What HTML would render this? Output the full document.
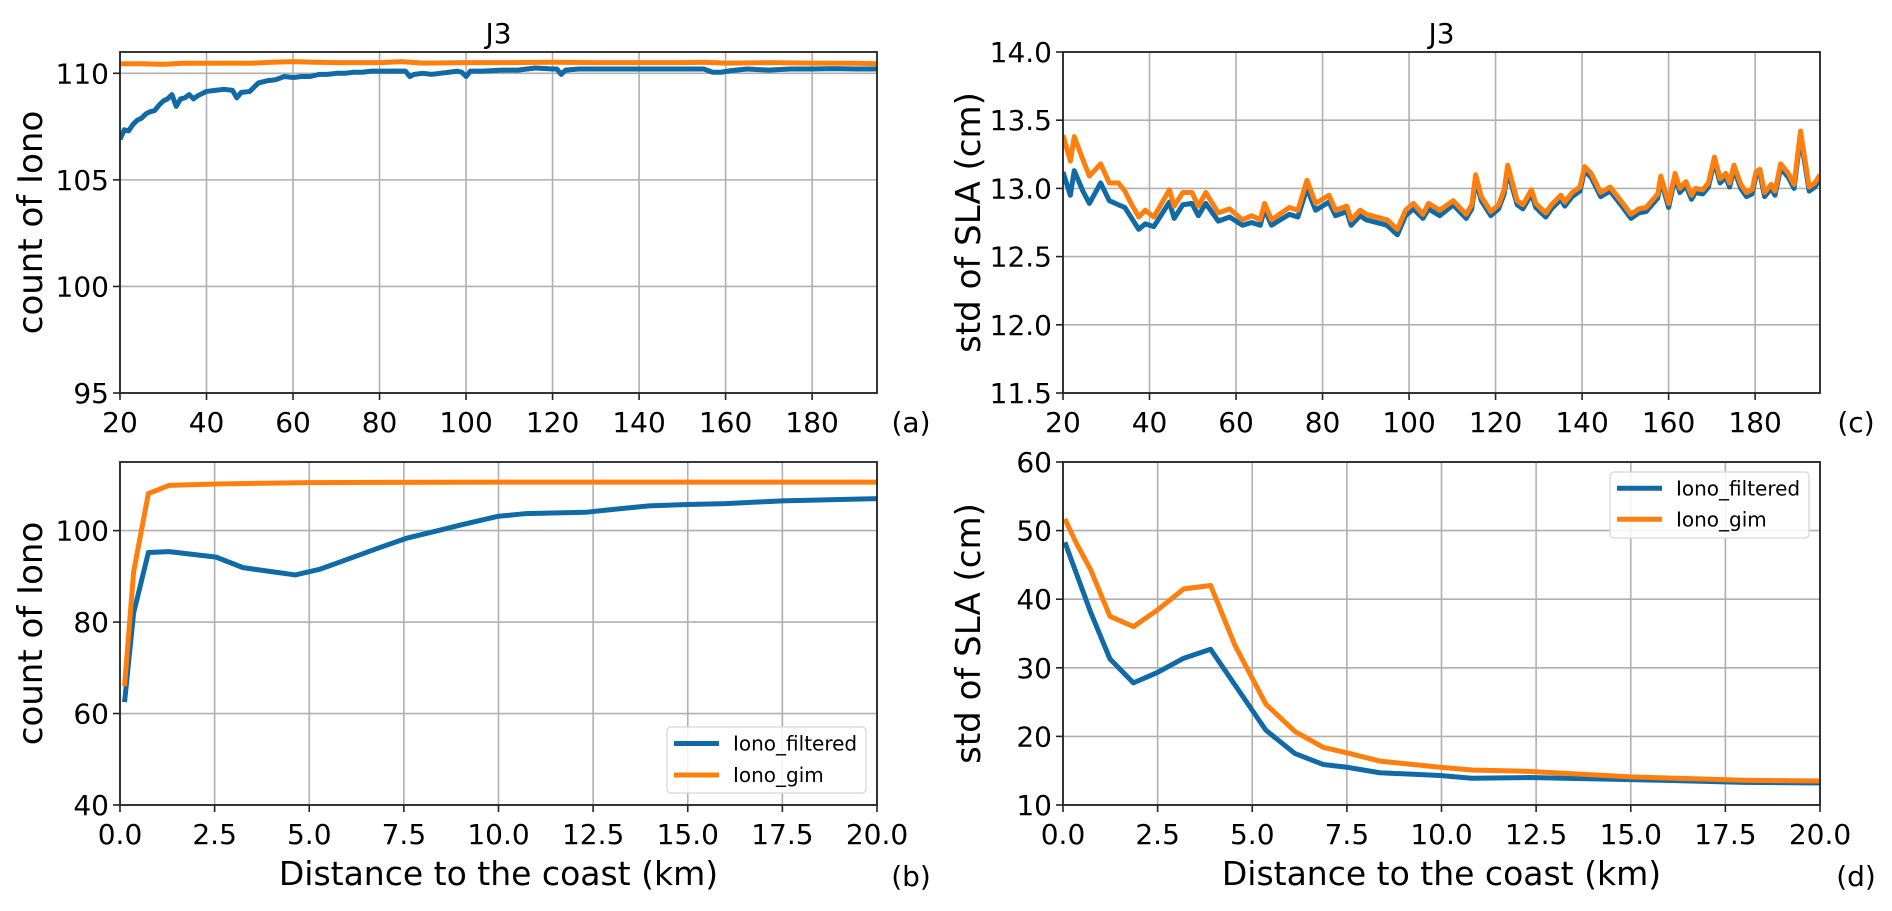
<!DOCTYPE html>
<html><head><meta charset="utf-8"><style>
html,body{margin:0;padding:0;background:#fff;}
svg{display:block;font-family:"DejaVu Sans","Liberation Sans",sans-serif;}
</style></head><body>
<svg id="fig" width="1892" height="911" viewBox="0 0 1892 911" xmlns="http://www.w3.org/2000/svg"></svg>
<script>
// ---- data ----
const aBlue=[[20,106.9],[21,107.35],[22,107.3],[23,107.6],[24,107.8],[25,107.9],[26,108.1],[27,108.2],[28,108.25],[29,108.5],[30,108.7],[31,108.8],[32,109.0],[33,108.45],[34,108.8],[35,108.85],[36,109.0],[37,108.8],[38,108.95],[40,109.15],[42,109.2],[44,109.25],[46,109.2],[47,108.85],[48,109.1],[50,109.15],[52,109.55],[54,109.65],[56,109.7],[58,109.85],[60,109.8],[62,109.85],[64,109.85],[66,109.95],[68,109.95],[70,110.0],[72,110.0],[74,110.05],[76,110.05],[78,110.1],[80,110.1],[84,110.1],[86,110.1],[87,109.85],[88,109.95],[90,110.0],[92,109.95],[94,110.0],[96,110.05],[98,110.1],[99,110.05],[100,109.85],[101,110.1],[104,110.1],[108,110.15],[112,110.15],[116,110.25],[120,110.2],[121,110.2],[122,109.95],[123,110.15],[126,110.2],[130,110.2],[135,110.2],[140,110.2],[145,110.2],[150,110.2],[155,110.2],[157,110.05],[159,110.05],[161,110.12],[165,110.2],[170,110.15],[175,110.2],[180,110.2],[185,110.22],[190,110.2],[195,110.2]];
const aOrange=[[20,110.45],[25,110.45],[30,110.42],[35,110.48],[40,110.47],[45,110.48],[50,110.47],[55,110.52],[60,110.55],[65,110.52],[70,110.5],[80,110.5],[85,110.55],[90,110.48],[100,110.5],[110,110.5],[120,110.52],[130,110.5],[140,110.5],[150,110.5],[155,110.52],[160,110.48],[170,110.5],[180,110.48],[190,110.47],[195,110.45]];
const cOrange=[[20,13.39],[21.7,13.2],[22.6,13.38],[24.6,13.21],[26.1,13.09],[28.7,13.18],[30.7,13.04],[32.8,13.04],[34.3,12.98],[35.9,12.88],[37.5,12.79],[39,12.84],[41,12.79],[44.6,12.99],[45.7,12.87],[47.7,12.97],[49.8,12.97],[51.3,12.87],[53,12.97],[55.9,12.82],[58.5,12.85],[61.5,12.77],[63.6,12.8],[65.6,12.77],[66.6,12.89],[68.2,12.77],[72.3,12.86],[74.3,12.84],[76.4,13.06],[78.4,12.89],[81.5,12.95],[83,12.84],[85.6,12.87],[86.6,12.77],[88.7,12.84],[90.1,12.81],[94.9,12.77],[97.3,12.7],[99.2,12.84],[101,12.89],[103.2,12.81],[104.5,12.89],[107.1,12.84],[110.2,12.91],[113.2,12.81],[114.5,12.88],[115.4,13.1],[116.7,12.94],[118.9,12.83],[120.7,12.88],[122,12.99],[122.8,13.17],[125,12.91],[126.3,12.88],[128.3,12.99],[129.3,12.89],[131.6,12.82],[132.9,12.88],[135.1,12.95],[136,12.9],[137.7,12.97],[139.5,13.01],[140.6,13.16],[142.1,13.11],[144.3,12.97],[146.5,13.01],[149.2,12.9],[151.3,12.81],[153.1,12.85],[154.8,12.86],[157.5,12.96],[158.2,13.09],[160,12.89],[161.5,13.11],[162.6,13.0],[164,13.05],[165.3,12.95],[166.2,13.0],[167.9,12.99],[169.2,13.04],[170.6,13.23],[171.9,13.07],[173.2,13.11],[174.1,13.04],[175.1,13.17],[176.7,13.03],[178,12.97],[179.3,12.99],[180.2,13.12],[181.1,13.14],[182.2,12.97],[183.7,13.03],[184.6,12.98],[185.9,13.18],[187.7,13.11],[189,13.03],[190.5,13.42],[192.5,13.01],[193.8,13.04],[195,13.1]];
const cBlue=[[20,13.12],[21.7,12.95],[22.6,13.13],[24.6,12.98],[26.1,12.89],[28.7,13.04],[30.7,12.91],[32.8,12.88],[34.3,12.86],[35.9,12.78],[37.5,12.7],[39,12.74],[41,12.72],[44.6,12.9],[45.7,12.78],[47.7,12.88],[49.8,12.89],[51.3,12.8],[53,12.89],[55.9,12.76],[58.5,12.79],[61.5,12.73],[63.6,12.75],[65.6,12.73],[66.6,12.85],[68.2,12.73],[72.3,12.81],[74.3,12.79],[76.4,13.0],[78.4,12.84],[81.5,12.9],[83,12.8],[85.6,12.83],[86.6,12.73],[88.7,12.8],[90.1,12.77],[94.9,12.73],[97.3,12.66],[99.2,12.8],[101,12.85],[103.2,12.78],[104.5,12.85],[107.1,12.8],[110.2,12.88],[113.2,12.78],[114.5,12.85],[115.4,13.06],[116.7,12.91],[118.9,12.8],[120.7,12.85],[122,12.96],[122.8,13.13],[125,12.88],[126.3,12.85],[128.3,12.96],[129.3,12.86],[131.6,12.79],[132.9,12.85],[135.1,12.92],[136,12.87],[137.7,12.94],[139.5,12.98],[140.6,13.13],[142.1,13.08],[144.3,12.94],[146.5,12.98],[149.2,12.87],[151.3,12.78],[153.1,12.82],[154.8,12.83],[157.5,12.93],[158.2,13.06],[160,12.86],[161.5,13.08],[162.6,12.97],[164,13.02],[165.3,12.92],[166.2,12.97],[167.9,12.96],[169.2,13.01],[170.6,13.2],[171.9,13.04],[173.2,13.08],[174.1,13.01],[175.1,13.14],[176.7,13.0],[178,12.94],[179.3,12.96],[180.2,13.09],[181.1,13.11],[182.2,12.94],[183.7,13.0],[184.6,12.95],[185.9,13.15],[187.7,13.08],[189,13.0],[190.5,13.38],[192.5,12.98],[193.8,13.01],[195,13.07]];
const bBlue=[[0.12,62.5],[0.36,82],[0.75,95.2],[1.3,95.4],[2.54,94.2],[3.25,91.9],[4.63,90.3],[5.3,91.6],[6.1,94.0],[6.9,96.4],[7.6,98.4],[8.3,99.8],[9.09,101.4],[9.97,103.1],[10.7,103.7],[12.3,104.0],[13.1,104.7],[13.97,105.4],[15.0,105.7],[16.0,105.9],[17.5,106.5],[20,107.0]];
const bOrange=[[0.12,66],[0.36,91],[0.75,108.1],[1.3,109.9],[2.54,110.2],[5.0,110.5],[10,110.6],[15,110.6],[20,110.6]];
const dBlue=[[0.05,48.3],[0.73,38.1],[1.24,31.3],[1.86,27.8],[2.49,29.3],[3.19,31.4],[3.9,32.7],[4.63,26.8],[5.36,20.9],[6.13,17.5],[6.88,15.9],[7.5,15.5],[8.37,14.7],[9.96,14.3],[10.8,13.9],[12.3,14.0],[15,13.7],[15.8,13.6],[18,13.3],[20,13.2]];
const dOrange=[[0.05,51.7],[0.34,48.3],[0.73,44.3],[1.24,37.5],[1.86,36.0],[2.49,38.4],[3.19,41.5],[3.9,42.0],[4.54,33.3],[5.36,24.7],[6.13,20.7],[6.88,18.4],[7.5,17.6],[8.37,16.4],[9.96,15.5],[10.8,15.1],[12.3,14.9],[15,14.1],[18,13.6],[20,13.5]];
const topXTicks=[20,40,60,80,100,120,140,160,180];
const botXTicks=["0.0","2.5","5.0","7.5","10.0","12.5","15.0","17.5","20.0"];
const aYTicks=["95","100","105","110"];
const cYTicks=["11.5","12.0","12.5","13.0","13.5","14.0"];
const bYTicks=["40","60","80","100"];
const dYTicks=["10","20","30","40","50","60"];
const seriesNames=["Iono_filtered","Iono_gim"];

const NS="http://www.w3.org/2000/svg";
const svg=document.getElementById('fig');
const BLUE="#0f6aa6", ORANGE="#ff7f0e";
function mk(tag,attrs,parent){const e=document.createElementNS(NS,tag);for(const k in attrs)e.setAttribute(k,attrs[k]);(parent||svg).appendChild(e);return e;}

function panel(cfg){
  const g=mk('g',{});
  
  
  const L=cfg.L,R=cfg.R,T=cfg.T,B=cfg.B;
  const sx=v=>L+(v-cfg.x0)/(cfg.x1-cfg.x0)*(R-L);
  const sy=v=>B-(v-cfg.y0)/(cfg.y1-cfg.y0)*(B-T);
  cfg.xticks.forEach(t=>{
    const v=parseFloat(t),x=sx(v);
    const gl=mk('line',{x1:x,x2:x,y1:T,y2:B,stroke:'#b0b0b0','stroke-width':1.6},g);
    
    
    mk('line',{x1:x,x2:x,y1:B,y2:B+7,stroke:'#222','stroke-width':1.6},g);
    const tx=mk('text',{x:x,y:B+39,'text-anchor':'middle','font-size':28,fill:'#000'},g);
    tx.textContent=t;
    
    
  });
  cfg.yticks.forEach(t=>{
    const v=parseFloat(t),y=sy(v);
    const gl=mk('line',{x1:L,x2:R,y1:y,y2:y,stroke:'#b0b0b0','stroke-width':1.6},g);
    
    
    mk('line',{x1:L-7,x2:L,y1:y,y2:y,stroke:'#222','stroke-width':1.6},g);
    const tx=mk('text',{x:L-11,y:y+10,'text-anchor':'end','font-size':28,fill:'#000'},g);
    tx.textContent=t;
    
    
  });
  const cp='clip-'+cfg.name;
  const cl=mk('clipPath',{id:cp},g);mk('rect',{x:L,y:T,width:R-L,height:B-T},cl);
  [[cfg.blue,BLUE,'series-iono-filtered'],[cfg.orange,ORANGE,'series-iono-gim']].forEach(s=>{
    const d=s[0].map((p,i)=>(i?'L':'M')+sx(p[0]).toFixed(2)+','+sy(p[1]).toFixed(2)).join(' ');
    const path=mk('path',{d:d,fill:'none',stroke:s[1],'stroke-width':5,'stroke-linejoin':'round','clip-path':'url(#'+cp+')'},g);
    
    
  });
  const fr=mk('rect',{x:L,y:T,width:R-L,height:B-T,fill:'none',stroke:'#222','stroke-width':1.8},g);
  
  
  if(cfg.title){const t=mk('text',{x:(L+R)/2,y:T-9,'text-anchor':'middle','font-size':28,fill:'#000'},g);t.textContent=cfg.title;
    
    }
  const yl=mk('text',{x:0,y:0,'text-anchor':'middle','font-size':34,fill:'#000',transform:`translate(${cfg.ylx},${(T+B)/2}) rotate(-90)`},g);
  yl.textContent=cfg.ylabel;
  
  
  if(cfg.xlabel){const xl=mk('text',{x:(L+R)/2,y:B+80,'text-anchor':'middle','font-size':33,fill:'#000'},g);xl.textContent=cfg.xlabel;
    
    }
  const pl=mk('text',{x:cfg.plx,y:cfg.ply,'text-anchor':'middle','font-size':28,fill:'#000'},g);pl.textContent=cfg.plabel;
  
  
  if(cfg.legend){
    const lg=mk('g',{},g);
    
    
    const [lx,ly,lw,lh,r1,r2]=cfg.legend;
    mk('rect',{x:lx,y:ly,width:lw,height:lh,rx:4,fill:'#fff','fill-opacity':0.85,stroke:'#d8d8d8','stroke-width':1.3},lg);
    [[r1,BLUE,seriesNames[0]],[r2,ORANGE,seriesNames[1]]].forEach(r=>{
      const e=mk('g',{},lg);
      
      
      mk('line',{x1:lx+7,x2:lx+52,y1:r[0],y2:r[0],stroke:r[1],'stroke-width':5},e);
      const t=mk('text',{x:lx+66,y:r[0]+7,'font-size':20,fill:'#000'},e);t.textContent=r[2];
    });
  }
}
panel({name:'panel-a',L:120,R:877,T:52,B:393,x0:20,x1:195,y0:95,y1:111,xticks:topXTicks.map(String),yticks:aYTicks,blue:aBlue,orange:aOrange,title:'J3',ylabel:'count of Iono',ylx:42,plabel:'(a)',plx:911,ply:432});
panel({name:'panel-c',L:1063,R:1820,T:52,B:393,x0:20,x1:195,y0:11.5,y1:14.0,xticks:topXTicks.map(String),yticks:cYTicks,blue:cBlue,orange:cOrange,title:'J3',ylabel:'std of SLA (cm)',ylx:980,plabel:'(c)',plx:1856,ply:432});
panel({name:'panel-b',L:120,R:877,T:462,B:805,x0:0,x1:20,y0:40,y1:115,xticks:botXTicks,yticks:bYTicks,blue:bBlue,orange:bOrange,ylabel:'count of Iono',ylx:42,xlabel:'Distance to the coast (km)',plabel:'(b)',plx:911,ply:886,legend:[667,727,199,66,743.5,775]});
panel({name:'panel-d',L:1063,R:1820,T:462,B:805,x0:0,x1:20,y0:10,y1:60,xticks:botXTicks,yticks:dYTicks,blue:dBlue,orange:dOrange,ylabel:'std of SLA (cm)',ylx:980,xlabel:'Distance to the coast (km)',plabel:'(d)',plx:1856,ply:886,legend:[1610,472,199,66,488.3,519.3]});
</script>
</body></html>
